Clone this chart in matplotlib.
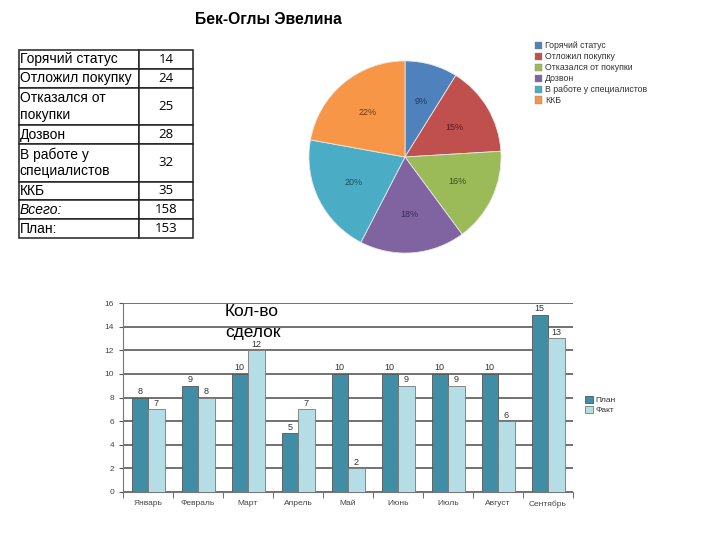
import numpy as np
import matplotlib
matplotlib.use("Agg")
import matplotlib.pyplot as plt
from matplotlib.patches import Patch

plt.rcParams['font.family'] = ['Liberation Sans', 'DejaVu Sans']

# --- data ---
status_labels = ['Горячий статус', 'Отложил покупку', 'Отказался от покупки',
                 'Дозвон', 'В работе у специалистов', 'ККБ']
table_labels = ['Горячий статус', 'Отложил покупку', 'Отказался от\nпокупки',
                'Дозвон', 'В работе у\nспециалистов', 'ККБ', 'Всего:', 'План:']
status_values = [14, 24, 25, 28, 32, 35]
total_value = 158
plan_value = 153

months = ['Январь', 'Февраль', 'Март', 'Апрель', 'Май', 'Июнь', 'Июль', 'Август', 'Сентябрь']
plan = [8, 9, 10, 5, 10, 10, 10, 10, 15]
fact = [7, 8, 12, 7, 2, 9, 9, 6, 13]

pie_colors = ['#4F81BD', '#C0504D', '#9BBB59', '#8064A2', '#4BACC6', '#F79646']
pct_colors = ['#1F3A60', '#5A1A18', '#3B4A1C', '#3A2A55', '#1D4F5C', '#6B3A10']
plan_color = '#3F8EA6'
fact_color = '#B4DDE6'

W, H = 720, 540
fig = plt.figure(figsize=(7.2, 5.4), dpi=100)


def px_axes(x0, y0, x1, y1):
    return fig.add_axes([x0 / W, 1 - y1 / H, (x1 - x0) / W, (y1 - y0) / H])


fig.text(268 / W, 1 - 19 / H, 'Бек-Оглы Эвелина', ha='center', va='center',
         fontsize=11.3, fontweight='bold')

# --- table ---
tax = px_axes(19, 50, 193, 238)
tax.axis('off')
cell_text = [[lab, str(v)] for lab, v in zip(table_labels, status_values + [total_value, plan_value])]
tbl = tax.table(cellText=cell_text, colWidths=[0.69, 0.31], bbox=[0, 0, 1, 1], cellLoc='center')
tbl.auto_set_font_size(False)
row_h = [1, 1, 2, 1, 2, 1, 1, 1]
for (r, c), cell in tbl.get_celld().items():
    cell.set_height(row_h[r])
    cell.set_edgecolor('#222222')
    cell.set_linewidth(1.1)
    txt = cell.get_text()
    if c == 0:
        txt.set_fontsize(10)
        txt.set_ha('left')
        cell.PAD = 0.005
        txt.set_linespacing(1.25)
        if r == 6:
            txt.set_style('italic')
    else:
        txt.set_fontsize(9.5)
        txt.set_family(['Open Sans', 'DejaVu Sans'])

# --- pie ---
pax = px_axes(307, 59, 503, 255)
wedges, _, autotexts = pax.pie(status_values, colors=pie_colors, startangle=90, counterclock=False,
                               autopct='%1.0f%%', pctdistance=0.6, radius=1,
                               wedgeprops=dict(edgecolor='#e8e8e8', linewidth=0.6),
                               textprops=dict(fontsize=6.5))
for t, c in zip(autotexts, pct_colors):
    t.set_color(c)
pax.set_xlim(-1.02, 1.02)
pax.set_ylim(-1.02, 1.02)
pax.set_aspect('equal')

fig.legend(handles=[Patch(facecolor=c, edgecolor='#888888', linewidth=0.3, label=l)
                    for c, l in zip(pie_colors, status_labels)],
           loc='upper left', bbox_to_anchor=(531 / W, 1 - 38 / H), frameon=False,
           fontsize=6.3, handlelength=0.9, handleheight=0.9, handletextpad=0.3,
           labelspacing=0.22, borderaxespad=0, labelcolor='#333333')

# --- bar chart ---
bax = px_axes(123, 303, 573, 492)
x = np.arange(len(months))
bw = 0.33
bp = bax.bar(x - bw / 2, plan, width=bw, color=plan_color, edgecolor='#555555', linewidth=0.6,
             label='План', zorder=3)
bf = bax.bar(x + bw / 2, fact, width=bw, color=fact_color, edgecolor='#777777', linewidth=0.6,
             label='Факт', zorder=3)
bax.bar_label(bp, padding=1, fontsize=6.5, color='#333333')
bax.bar_label(bf, padding=1, fontsize=6.5, color='#333333')

bax.set_xlim(-0.5, len(months) - 0.5)
bax.set_ylim(0, 16)
bax.set_yticks(np.arange(0, 17, 2))
bax.yaxis.grid(True, color='#4a4a4a', linewidth=1.1, zorder=0)
bax.set_xticks(x)
bax.set_xticklabels(months, fontsize=6, color='#444444')
bax.set_xticks(np.arange(-0.5, len(months), 1), minor=True)
bax.tick_params(axis='x', which='major', length=0, pad=6)
bax.tick_params(axis='x', which='minor', length=4, color='#555555')
bax.tick_params(axis='y', length=3, labelsize=6, labelcolor='#444444', color='#555555')
for s in ['top', 'right']:
    bax.spines[s].set_visible(False)
for s in ['left', 'bottom']:
    bax.spines[s].set_color('#777777')

fig.text(225 / W, 1 - 312 / H, 'Кол-во', fontsize=12.5, va='center', ha='left')
fig.text(225 / W, 1 - 333 / H, 'сделок', fontsize=12.5, va='center', ha='left')

fig.legend(handles=[bp, bf], loc='center left', bbox_to_anchor=(582 / W, 1 - 405 / H),
           frameon=False, fontsize=6, handlelength=0.9, handleheight=0.9,
           handletextpad=0.3, labelspacing=0.2, borderaxespad=0, labelcolor='#333333')

fig.savefig('out.png', dpi=100)
